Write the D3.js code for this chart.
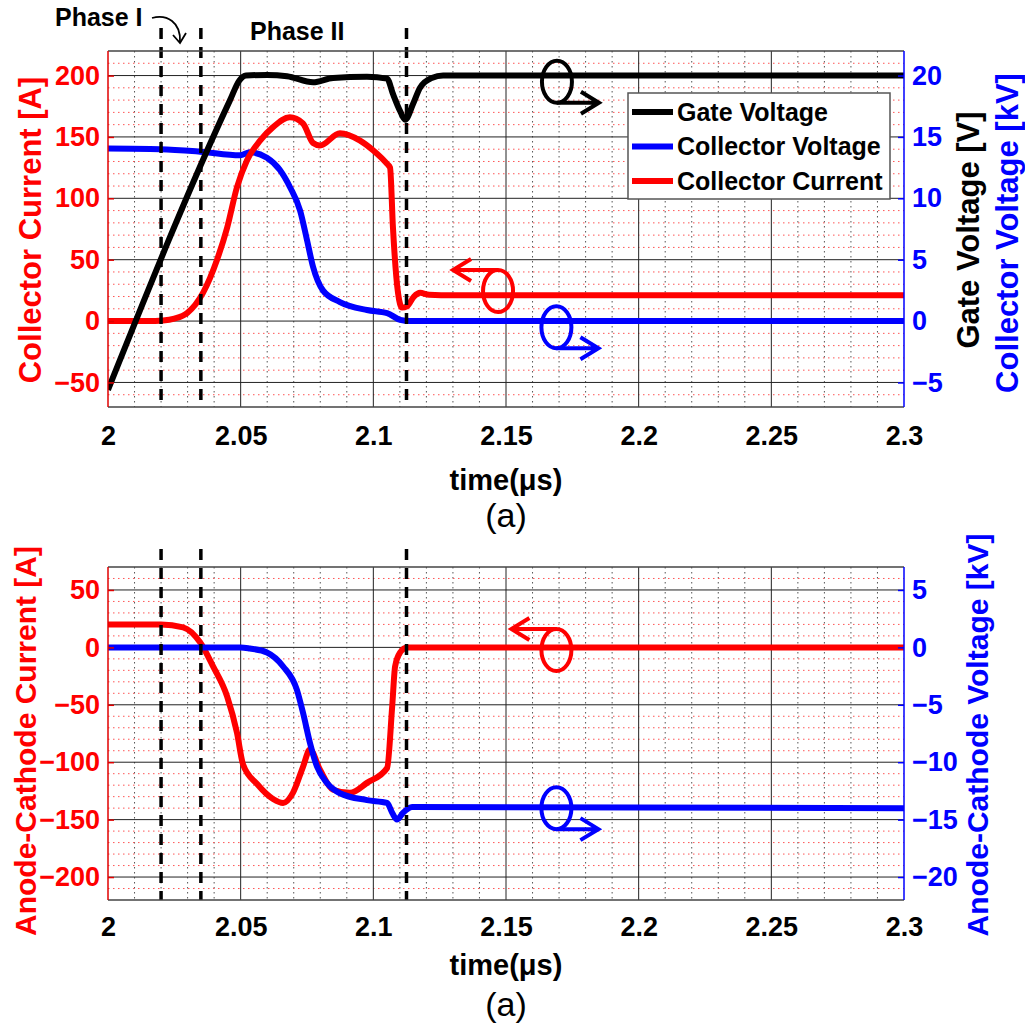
<!DOCTYPE html>
<html>
<head>
<meta charset="utf-8">
<script src="https://cdn.jsdelivr.net/npm/d3@7"></script>
<style>
body { margin: 0; background: #fff; }
svg text { font-family: Arial, "Liberation Sans", Helvetica, sans-serif; }
</style>
</head>
<body>
<svg width="1025" height="1023"></svg>
<script>
// shared time axis
var xTicks = [2, 2.05, 2.1, 2.15, 2.2, 2.25, 2.3];
var phaseMarks = [2.02, 2.035, 2.1125];

// panel 1 : gate voltage [V], collector voltage [kV], collector current [A]
var gateT = [2.0, 2.046, 2.0495, 2.052, 2.06, 2.0675, 2.0773, 2.0848, 2.0976, 2.1052, 2.1074, 2.1101, 2.112, 2.115, 2.1176, 2.122, 2.1263, 2.3];
var gateV = [-5.6, 18.0, 19.6, 20.0, 20.05, 19.95, 19.45, 19.8, 19.9, 19.75, 18.5, 17.1, 16.4, 17.7, 19.0, 19.8, 20.0, 20.0];

var vceT = [2.0, 2.0196, 2.0347, 2.0498, 2.0535, 2.0599, 2.0648, 2.0686, 2.0724, 2.075, 2.0773, 2.081, 2.0874, 2.0976, 2.1052, 2.1101, 2.1138, 2.3];
var vceV = [14.05, 14.0, 13.8, 13.5, 13.75, 13.3, 12.3, 10.9, 9.0, 6.6, 4.4, 2.5, 1.55, 0.9, 0.65, 0.1, 0, 0];

var icT = [2.0, 2.015, 2.0207, 2.025, 2.0298, 2.0358, 2.0411, 2.0449, 2.0486, 2.0524, 2.0573, 2.0622, 2.0685, 2.0735, 2.0773, 2.0799, 2.0874, 2.095, 2.1, 2.1052, 2.1063, 2.1074, 2.1093, 2.1108, 2.1127, 2.1153, 2.1176, 2.121, 2.13, 2.3];
var icA = [0, 0, 0.5, 2, 6.5, 23, 50, 76, 109, 131, 147, 158, 166, 161, 145, 143, 153, 147, 139, 128, 125, 76, 23, 11, 12, 20, 23, 21.5, 21, 21];

var topLeftTicks = [-50, 0, 50, 100, 150, 200];
var topRightTicks = [-5, 0, 5, 10, 15, 20];

// panel 2 : anode-cathode current [A], anode-cathode voltage [kV]
var iakT = [2.0, 2.02, 2.0283, 2.0347, 2.0396, 2.0449, 2.0486, 2.0509, 2.0562, 2.0622, 2.066, 2.0697, 2.0735, 2.0761, 2.0799, 2.0848, 2.0912, 2.0976, 2.1052, 2.1071, 2.1082, 2.1101, 2.1127, 2.3];
var iakA = [20, 20, 17.5, 4.4, -16.6, -42.8, -74.3, -102, -119, -132, -135.5, -126.7, -104, -89, -106.6, -124, -126.7, -118, -105, -51.6, -16.6, -4.4, 0, 0];

var vakT = [2.0, 2.05, 2.0535, 2.0599, 2.066, 2.0712, 2.0735, 2.0761, 2.0788, 2.0825, 2.0874, 2.0976, 2.1052, 2.1071, 2.1089, 2.1112, 2.1146, 2.3];
var vakV = [0, 0, -0.1, -0.44, -1.66, -3.7, -5.7, -8.3, -10.4, -11.8, -12.7, -13.3, -13.55, -14.4, -15.0, -14.4, -13.9, -14.0];

var botLeftTicks = [-200, -150, -100, -50, 0, 50];
var botRightTicks = [-20, -15, -10, -5, 0, 5];

var svg = d3.select("svg");
var left = 108, right = 904;

var x = d3.scaleLinear().domain([2, 2.3]).range([left, right]);

function zip(ts, vs) { return ts.map(function (t, i) { return [t, vs[i]]; }); }

function drawPanel(p) {
    var yL = d3.scaleLinear().domain(p.leftDomain).range([p.bottom, p.top]);
    var yR = d3.scaleLinear().domain(p.rightDomain).range([p.bottom, p.top]);
    var g = svg.append("g");

    // minor grid
    d3.range(2.01, 2.3, 0.01).filter(function (t) { return Math.abs(t * 20 - Math.round(t * 20)) > 1e-6; })
        .forEach(function (t) {
            g.append("line").attr("x1", x(t)).attr("x2", x(t)).attr("y1", p.top).attr("y2", p.bottom)
                .attr("stroke", "#555").attr("stroke-width", 1).attr("stroke-dasharray", "1.5,3.5");
        });
    d3.range(p.leftDomain[0] + 10, p.leftDomain[1], 10).filter(function (v) { return v % 50 !== 0; })
        .forEach(function (v) {
            g.append("line").attr("x1", left).attr("x2", right).attr("y1", yL(v)).attr("y2", yL(v))
                .attr("stroke", "#ff5555").attr("stroke-width", 1).attr("stroke-dasharray", "1.5,3.5");
        });
    // major grid
    xTicks.slice(1, -1).forEach(function (t) {
        g.append("line").attr("x1", x(t)).attr("x2", x(t)).attr("y1", p.top).attr("y2", p.bottom)
            .attr("stroke", "#222").attr("stroke-width", 1);
    });
    p.leftTicks.forEach(function (v) {
        g.append("line").attr("x1", left).attr("x2", right).attr("y1", yL(v)).attr("y2", yL(v))
            .attr("stroke", "#222").attr("stroke-width", 1);
    });

    // clip
    var clipId = "clip" + p.top;
    svg.append("clipPath").attr("id", clipId).append("rect")
        .attr("x", left).attr("y", p.top).attr("width", right - left).attr("height", p.bottom - p.top);

    var lines = g.append("g").attr("clip-path", "url(#" + clipId + ")");
    p.series.forEach(function (s) {
        var yy = s.axis === "L" ? yL : yR;
        var gen = d3.line().x(function (d) { return x(d[0]); }).y(function (d) { return yy(d[1]); })
            .curve(d3.curveMonotoneX);
        lines.append("path").datum(s.data).attr("d", gen)
            .attr("fill", "none").attr("stroke", s.color).attr("stroke-width", 6)
            .attr("stroke-linejoin", "round");
    });

    // phase dashed markers
    phaseMarks.forEach(function (t) {
        g.append("line").attr("x1", x(t)).attr("x2", x(t)).attr("y1", p.dashTop).attr("y2", p.bottom)
            .attr("stroke", "#000").attr("stroke-width", 3.5).attr("stroke-dasharray", "11,8");
    });

    // frame
    g.append("line").attr("x1", left).attr("x2", right).attr("y1", p.top).attr("y2", p.top)
        .attr("stroke", "#444").attr("stroke-width", 1.5);
    g.append("line").attr("x1", left).attr("x2", right).attr("y1", p.bottom).attr("y2", p.bottom)
        .attr("stroke", "#444").attr("stroke-width", 1.5);
    g.append("line").attr("x1", left).attr("x2", left).attr("y1", p.top).attr("y2", p.bottom)
        .attr("stroke", "#e00000").attr("stroke-width", 1.5);
    g.append("line").attr("x1", right).attr("x2", right).attr("y1", p.top).attr("y2", p.bottom)
        .attr("stroke", "#0000ff").attr("stroke-width", 1.5);

    // axes
    var ax = g.append("g").attr("transform", "translate(0," + p.bottom + ")")
        .call(d3.axisBottom(x).tickValues(xTicks).tickFormat(d3.format("")).tickSize(0).tickPadding(p.xPad));
    var axL = g.append("g").attr("transform", "translate(" + left + ",0)")
        .call(d3.axisLeft(yL).tickValues(p.leftTicks).tickSize(-6).tickPadding(8));
    var axR = g.append("g").attr("transform", "translate(" + right + ",0)")
        .call(d3.axisRight(yR).tickValues(p.rightTicks).tickSize(-6).tickPadding(8));
    [ax, axL, axR].forEach(function (a) {
        a.select(".domain").remove();
        a.selectAll("text").attr("font-size", 27).attr("font-weight", "bold")
            .attr("font-family", "Arial, 'Liberation Sans', sans-serif");
    });
    ax.selectAll("text").attr("fill", "#000");
    axL.selectAll("text").attr("fill", "#ff0000");
    axL.selectAll("line").attr("stroke", "#e00000").attr("stroke-width", 1.5);
    axR.selectAll("text").attr("fill", "#0000ff");
    axR.selectAll("line").attr("stroke", "#0000ff").attr("stroke-width", 1.5);

    // axis titles
    p.titles.forEach(function (t) {
        svg.append("text").attr("transform", "translate(" + t.x + "," + t.y + ") rotate(-90)")
            .attr("text-anchor", "middle").attr("dy", "0.35em")
            .attr("font-size", t.size).attr("font-weight", "bold").attr("fill", t.color).text(t.text);
    });
    svg.append("text").attr("x", (left + right) / 2).attr("y", p.timeY).attr("dy", "0.35em")
        .attr("text-anchor", "middle").attr("font-size", 29).attr("font-weight", "bold").text("time(μs)");
    svg.append("text").attr("x", (left + right) / 2).attr("y", p.capY).attr("dy", "0.35em")
        .attr("text-anchor", "middle").attr("font-size", 34).text("(a)");

    // ellipse + arrow annotations
    p.notes.forEach(function (n) {
        var yy = n.axis === "L" ? yL : yR;
        var cx = x(n.t), cy = yy(n.v), rx = 15, ry = 21;
        g.append("ellipse").attr("cx", cx).attr("cy", cy).attr("rx", rx).attr("ry", ry)
            .attr("fill", "none").attr("stroke", n.color).attr("stroke-width", 4);
        var ay, tip, back;
        if (n.dir === "left") { ay = cy - ry; tip = cx - 45; back = 18; }
        else { ay = cy + ry; tip = cx + 42; back = -18; }
        g.append("path")
            .attr("d", "M" + cx + "," + ay + "L" + tip + "," + ay +
                "M" + (tip + back) + "," + (ay - 11) + "L" + tip + "," + ay + "L" + (tip + back) + "," + (ay + 11))
            .attr("fill", "none").attr("stroke", n.color).attr("stroke-width", 4);
    });
    return g;
}

drawPanel({
    top: 51, bottom: 407, dashTop: 28, xPad: 19, timeY: 480, capY: 515,
    leftDomain: [-70, 220], rightDomain: [-7, 22],
    leftTicks: topLeftTicks, rightTicks: topRightTicks,
    series: [
        { data: zip(vceT, vceV), axis: "R", color: "#0000ff" },
        { data: zip(icT, icA), axis: "L", color: "#ff0000" },
        { data: zip(gateT, gateV), axis: "R", color: "#000000" }
    ],
    titles: [
        { text: "Collector Current [A]", x: 30, y: 230, size: 31, color: "#ff0000" },
        { text: "Gate Voltage [V]", x: 968, y: 230, size: 31, color: "#000000" },
        { text: "Collector Voltage [kV]", x: 1007, y: 233, size: 31, color: "#0000ff" }
    ],
    notes: [
        { t: 2.1692, v: 19.5, axis: "R", color: "#000", dir: "right" },
        { t: 2.147, v: 24.5, axis: "L", color: "#ff0000", dir: "left" },
        { t: 2.169, v: -0.5, axis: "R", color: "#0000ff", dir: "right" }
    ]
});

drawPanel({
    top: 567, bottom: 900, dashTop: 549, xPad: 17, timeY: 965, capY: 1004,
    leftDomain: [-220, 70], rightDomain: [-22, 7],
    leftTicks: botLeftTicks, rightTicks: botRightTicks,
    series: [
        { data: zip(iakT, iakA), axis: "L", color: "#ff0000" },
        { data: zip(vakT, vakV), axis: "R", color: "#0000ff" }
    ],
    titles: [
        { text: "Anode-Cathode Current [A]", x: 25, y: 741, size: 30, color: "#ff0000" },
        { text: "Anode-Cathode Voltage [kV]", x: 977, y: 735, size: 30, color: "#0000ff" }
    ],
    notes: [
        { t: 2.169, v: -2.3, axis: "L", color: "#ff0000", dir: "left" },
        { t: 2.169, v: -14, axis: "R", color: "#0000ff", dir: "right" }
    ]
});

// legend (panel 1)
var legendItems = ["Gate Voltage", "Collector Voltage", "Collector Current"];
var legendColors = ["#000000", "#0000ff", "#ff0000"];
var lg = svg.append("g").attr("transform", "translate(628,93)");
lg.append("rect").attr("width", 262).attr("height", 106).attr("fill", "#fff")
    .attr("stroke", "#555").attr("stroke-width", 1.5);
legendItems.forEach(function (name, i) {
    var yy = 19 + i * 34.5;
    lg.append("line").attr("x1", 4).attr("x2", 45).attr("y1", yy).attr("y2", yy)
        .attr("stroke", legendColors[i]).attr("stroke-width", 6);
    lg.append("text").attr("x", 49).attr("y", yy).attr("dy", "0.35em")
        .attr("font-size", 25).attr("font-weight", "bold").text(name);
});

// phase labels
svg.append("text").attr("x", 55).attr("y", 26).attr("font-size", 25).attr("font-weight", "bold").text("Phase I");
svg.append("text").attr("x", 250).attr("y", 40).attr("font-size", 25).attr("font-weight", "bold").text("Phase II");
svg.append("path").attr("d", "M152,18 C167,14 181,22 180,42").attr("fill", "none")
    .attr("stroke", "#000").attr("stroke-width", 1.8);
svg.append("path").attr("d", "M173,35 L180,43 L186,33").attr("fill", "none")
    .attr("stroke", "#000").attr("stroke-width", 1.8);
</script>
</body>
</html>
